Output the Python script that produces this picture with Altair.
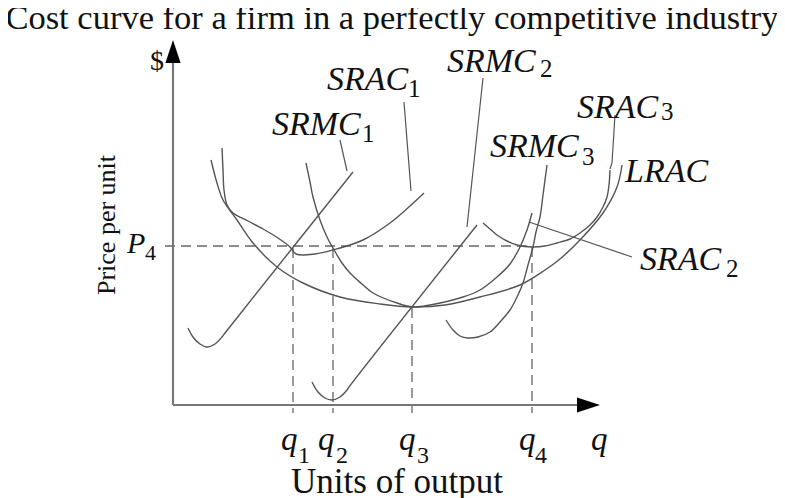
import altair as alt
import pandas as pd

# ---- curve values (q = units of output, p = price per unit; origin at axes corner)
lrac_q = [38, 44, 50, 64, 80, 104, 130, 167, 207, 240, 272, 307, 347, 372, 387, 407, 430, 444, 449]
lrac_p = [245, 222, 205, 185, 162, 138, 122, 108, 101, 98, 100, 108, 120, 135, 146, 165, 192, 218, 240]

srac1_q = [49, 50, 51, 54, 60, 75, 90, 105, 117, 123, 142, 160, 190, 217, 237, 251]
srac1_p = [257, 235, 215, 200, 192, 184, 176, 167, 158, 151, 151, 155, 165, 182, 199, 212]

srac2_q = [133, 137, 140, 147, 154, 160, 169, 177, 189, 200, 224, 240, 257, 290, 307, 324, 337, 347, 354, 359]
srac2_p = [242, 223, 208, 185, 168, 157, 142, 132, 121, 112, 102, 98, 100, 108, 115, 128, 141, 158, 175, 192]

srac3_q = [310, 317, 324, 334, 344, 360, 372, 384, 397, 407, 417, 424, 430, 434, 436, 437]
srac3_p = [182, 176, 170, 164, 160, 158, 159, 162, 166, 172, 180, 188, 198, 208, 220, 235]

srmc1_q = [15, 20, 27, 34, 42, 49, 52, 180]
srmc1_p = [77, 68, 61, 58, 61, 68, 72, 233]

srmc2_q = [139, 145, 152, 159, 167, 174, 176, 304]
srmc2_p = [23, 13, 7, 5, 8, 15, 18, 180]

srmc3_q = [273, 280, 287, 295, 305, 317, 327, 337, 344, 350, 355, 360, 363, 367, 370, 374]
srmc3_p = [85, 75, 69, 67, 68, 73, 83, 95, 108, 122, 140, 158, 173, 188, 210, 240]

# leader lines from labels to curves
leader_names = ["SRMC1", "SRMC1", "SRAC1", "SRAC1", "SRMC2", "SRMC2",
                "SRAC3", "SRAC3", "SRAC3", "SRAC2", "SRAC2"]
leader_q = [167, 174, 231, 238, 310, 294, 442, 439, 437, 459, 356]
leader_p = [265, 234, 303, 214, 327, 178, 290, 242, 236, 148, 183]

# price level and output levels
p4 = 159
q_levels = [120, 160, 239, 359]
q_level_tops = [157, 157, 97, 158]
p4_start = -8
tick_bottom = -8

# axes extent
y_axis_top = 350
x_axis_end = 410

# ---- labels
title_text = "Cost curve for a firm in a perfectly competitive industry"
curve_label_main = ["SRMC", "SRAC", "SRMC", "SRAC", "SRMC", "LRAC", "SRAC"]
curve_label_sub = ["1", "1", "2", "3", "3", "", "2"]
curve_label_q = [99, 154, 274, 404, 317, 452, 467]
curve_label_p = [270, 315, 333, 287, 248, 223, 135]
curve_sub_q = [189, 235, 367, 488, 409, 0, 553]
curve_sub_p = [263, 308, 328, 285, 240, 0, 128]

q_tick_main = ["q", "q", "q", "q", "q"]
q_tick_sub = ["1", "2", "3", "4", ""]
q_tick_q = [108, 145, 226, 346, 418]
q_tick_sub_q = [125, 163, 244, 362, 0]
q_tick_p = -45
q_tick_sub_p = -58

X = dict(scale=alt.Scale(domain=[-165, 604], nice=False, zero=False), axis=None)
Y = dict(scale=alt.Scale(domain=[-93, 397], nice=False, zero=False), axis=None)


def enc(**kw):
    return dict(x=alt.X("q:Q", **X), y=alt.Y("p:Q", **Y), **kw)


# curves
rows = []
for name, qs, ps in [("LRAC", lrac_q, lrac_p), ("SRAC1", srac1_q, srac1_p),
                     ("SRAC2", srac2_q, srac2_p), ("SRAC3", srac3_q, srac3_p),
                     ("SRMC1", srmc1_q, srmc1_p), ("SRMC2", srmc2_q, srmc2_p),
                     ("SRMC3", srmc3_q, srmc3_p)]:
    for i, (a, b) in enumerate(zip(qs, ps)):
        rows.append({"curve": name, "i": i, "q": a, "p": b})
curves_df = pd.DataFrame(rows)

curves = alt.Chart(curves_df).mark_line(
    interpolate="catmull-rom", color="#555555", strokeWidth=1.4
).encode(**enc(detail="curve:N", order="i:Q"))

# leaders
lrows = []
for i, (n, a, b) in enumerate(zip(leader_names, leader_q, leader_p)):
    lrows.append({"lead": n, "i": i, "q": a, "p": b})
leaders_df = pd.DataFrame(lrows)
leaders = alt.Chart(leaders_df).mark_line(color="#555555", strokeWidth=1.2).encode(
    **enc(detail="lead:N", order="i:Q"))

# dashed guides
drows = [{"g": "P4", "i": 0, "q": p4_start, "p": p4},
         {"g": "P4", "i": 1, "q": q_levels[-1], "p": p4}]
for k, (ql, top) in enumerate(zip(q_levels, q_level_tops)):
    drows.append({"g": f"q{k+1}", "i": 0, "q": ql, "p": top})
    drows.append({"g": f"q{k+1}", "i": 1, "q": ql, "p": tick_bottom})
dashed = alt.Chart(pd.DataFrame(drows)).mark_line(
    color="#666666", strokeWidth=1.3, strokeDash=[10, 6]
).encode(**enc(detail="g:N", order="i:Q"))

# axes
arows = [{"a": "y", "i": 0, "q": 0, "p": 0}, {"a": "y", "i": 1, "q": 0, "p": y_axis_top},
         {"a": "x", "i": 0, "q": 0, "p": 0}, {"a": "x", "i": 1, "q": x_axis_end, "p": 0}]
axes = alt.Chart(pd.DataFrame(arows)).mark_line(color="#777777", strokeWidth=2.2).encode(
    **enc(detail="a:N", order="i:Q"))

up_head = alt.Chart(pd.DataFrame({"q": [0], "p": [353.5]})).mark_point(
    shape="M0,-1L0.66,1L-0.66,1Z", size=529, filled=True, color="#000000", opacity=1
).encode(**enc())
right_head = alt.Chart(pd.DataFrame({"q": [415.5], "p": [0]})).mark_point(
    shape="M1,0L-1,0.66L-1,-0.66Z", size=529, filled=True, color="#000000", opacity=1
).encode(**enc())

FONT = "Liberation Serif"

title = alt.Chart(pd.DataFrame({"q": [219], "p": [376], "t": [title_text]})).mark_text(
    font=FONT, fontSize=34.5, align="center", baseline="alphabetic", color="#111111"
).encode(**enc(text="t:N"))

xlab = alt.Chart(pd.DataFrame({"q": [224], "p": [-88], "t": ["Units of output"]})).mark_text(
    font=FONT, fontSize=35, align="center", baseline="alphabetic", color="#111111"
).encode(**enc(text="t:N"))

ylab = alt.Chart(pd.DataFrame({"q": [-66], "p": [180], "t": ["Price per unit"]})).mark_text(
    font=FONT, fontSize=26, align="center", baseline="middle", angle=270, color="#111111"
).encode(**enc(text="t:N"))

dollar = alt.Chart(pd.DataFrame({"q": [-16], "p": [335], "t": ["$"]})).mark_text(
    font=FONT, fontSize=28, align="center", baseline="alphabetic", color="#111111"
).encode(**enc(text="t:N"))

p_main = alt.Chart(pd.DataFrame({"q": [-46], "p": [152], "t": ["P"]})).mark_text(
    font=FONT, fontSize=30, fontStyle="italic", align="left", baseline="alphabetic", color="#111111"
).encode(**enc(text="t:N"))
p_sub = alt.Chart(pd.DataFrame({"q": [-28], "p": [145], "t": ["4"]})).mark_text(
    font=FONT, fontSize=22, align="left", baseline="alphabetic", color="#111111"
).encode(**enc(text="t:N"))

lab_df = pd.DataFrame({"q": curve_label_q, "p": curve_label_p, "t": curve_label_main})
sub_df = pd.DataFrame({"q": curve_sub_q, "p": curve_sub_p, "t": curve_label_sub})
sub_df = sub_df[sub_df["t"] != ""]
labels = alt.Chart(lab_df).mark_text(
    font=FONT, fontSize=34, fontStyle="italic", align="left", baseline="alphabetic", color="#111111"
).encode(**enc(text="t:N"))
subs = alt.Chart(sub_df).mark_text(
    font=FONT, fontSize=25, align="left", baseline="alphabetic", color="#111111"
).encode(**enc(text="t:N"))

qt_df = pd.DataFrame({"q": q_tick_q, "p": [q_tick_p] * 5, "t": q_tick_main})
qs_df = pd.DataFrame({"q": q_tick_sub_q, "p": [q_tick_sub_p] * 5, "t": q_tick_sub})
qs_df = qs_df[qs_df["t"] != ""]
qticks = alt.Chart(qt_df).mark_text(
    font=FONT, fontSize=33, fontStyle="italic", align="left", baseline="alphabetic", color="#111111"
).encode(**enc(text="t:N"))
qsubs = alt.Chart(qs_df).mark_text(
    font=FONT, fontSize=24, align="left", baseline="alphabetic", color="#111111"
).encode(**enc(text="t:N"))

chart = alt.layer(
    dashed, axes, curves, leaders, up_head, right_head,
    title, xlab, ylab, dollar, p_main, p_sub, labels, subs, qticks, qsubs
).properties(
    width=769, height=490, autosize="none", padding=0
).configure_view(stroke=None)

chart.save("out.html", embed_options={"renderer": "svg", "actions": False})
